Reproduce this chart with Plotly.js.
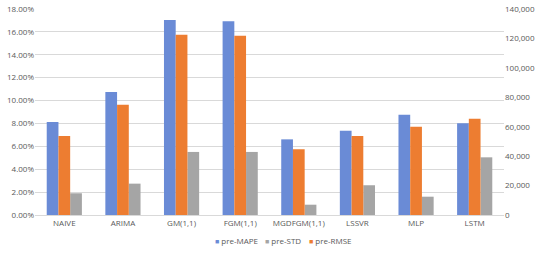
<!DOCTYPE html>
<html>
<head>
<meta charset="utf-8">
<script src="https://cdn.plot.ly/plotly-3.0.1.min.js"></script>
<style>
  html, body { margin: 0; padding: 0; background: #fff; }
  #chart { width: 550px; height: 254px; }
</style>
</head>
<body>
<div id="chart"></div>
<script>
var models = ["NAIVE", "ARIMA", "GM(1,1)", "FGM(1,1)", "MGDFGM(1,1)", "LSSVR", "MLP", "LSTM"];
var preMAPE = [0.0813, 0.1075, 0.1704, 0.1693, 0.0661, 0.0737, 0.0877, 0.0801];
var preSTD = [0.0190, 0.0274, 0.0551, 0.0551, 0.0090, 0.0260, 0.0160, 0.0504];
var preRMSE = [53700, 74960, 122500, 121900, 44650, 53700, 60000, 65450];

var tickFont = {family: "Open Sans, Liberation Sans, sans-serif", size: 8, color: "#595959"};

var colors = {mape: '#6a8bd6', std: '#a5a5a5', rmse: '#ed7d31'};

var traces = [
    {
        type: 'bar', name: 'pre-MAPE', x: models, y: preMAPE,
        marker: {color: colors.mape}, width: 0.2, offset: -0.3,
        hoverinfo: 'x+y'
    },
    {
        type: 'bar', name: 'pre-STD', x: models, y: preSTD,
        marker: {color: colors.std}, width: 0.2, offset: 0.1,
        hoverinfo: 'x+y'
    },
    {
        type: 'bar', name: 'pre-RMSE', x: models, y: preRMSE, yaxis: 'y2',
        marker: {color: colors.rmse}, width: 0.2, offset: -0.1,
        hoverinfo: 'x+y'
    }
];

// compact legend like the excel one (plotly's own legend spaces items too wide)
var legendItems = [
    {name: 'pre-MAPE', color: colors.mape, x: 0.380},
    {name: 'pre-STD', color: colors.std, x: 0.487},
    {name: 'pre-RMSE', color: colors.rmse, x: 0.580}
];
var annotations = legendItems.map(function (item) {
    return {
        xref: 'paper', yref: 'paper', x: item.x, y: -0.126,
        xanchor: 'left', yanchor: 'middle', showarrow: false,
        text: '<span style="color:' + item.color + ';font-size:7px">■</span> ' + item.name,
        font: tickFont
    };
});

var layout = {
    width: 550,
    height: 254,
    margin: {l: 35, r: 46, t: 9, b: 39, pad: 0, autoexpand: false},
    paper_bgcolor: '#ffffff',
    plot_bgcolor: '#ffffff',
    barmode: 'overlay',
    showlegend: false,
    annotations: annotations,
    xaxis: {
        type: 'category', tickfont: tickFont, showgrid: false,
        showline: true, linecolor: '#d9d9d9', ticks: '', ticklen: 0
    },
    yaxis: {
        range: [0, 0.18], dtick: 0.02, tickformat: '.2%',
        tickfont: tickFont, gridcolor: '#d9d9d9', zeroline: false,
        showline: false, ticks: ''
    },
    yaxis2: {
        range: [0, 140000], dtick: 20000, tickformat: ',d',
        overlaying: 'y', side: 'right', showgrid: false, zeroline: false,
        tickfont: tickFont, ticks: ''
    }
};

Plotly.newPlot('chart', traces, layout, {displayModeBar: false, staticPlot: true});
</script>
</body>
</html>
